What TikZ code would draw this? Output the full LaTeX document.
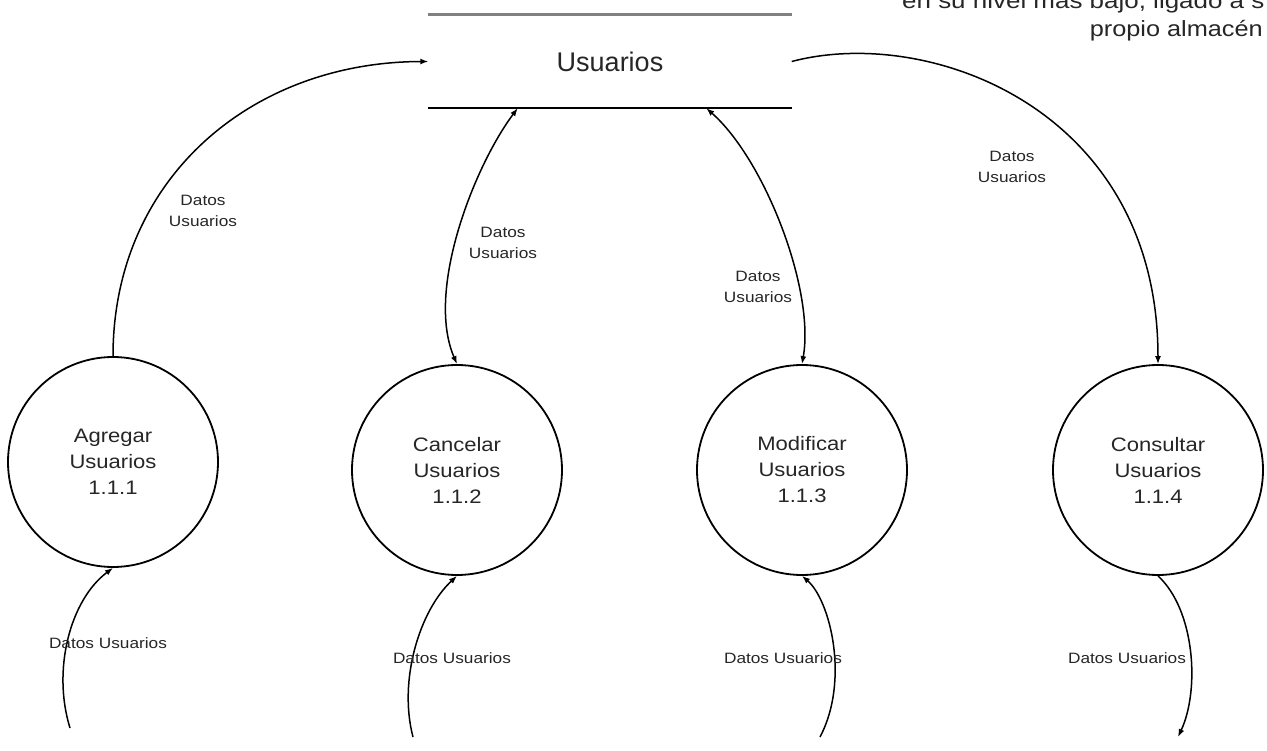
\documentclass[tikz,border=0pt]{standalone}
\usepackage{fontspec}
\setmainfont{Liberation Sans}
\usetikzlibrary{arrows.meta,calc}

\definecolor{ink}{gray}{0.15}
\definecolor{rulegray}{gray}{0.5}

% widen a piece of text horizontally
\newcommand{\stretchx}[2][1.13]{\scalebox{#1}[1]{#2}}

\begin{document}
\begin{tikzpicture}[x=1pt,y=-1pt,
  process/.style={circle,draw,line width=1.8pt,minimum size=210pt,inner sep=0pt,
    align=center,font=\fontsize{19.5}{26}\selectfont,text=ink},
  datastore/.style={minimum width=363pt,minimum height=93pt,inner sep=0pt,
    font=\fontsize{27}{32}\selectfont,text=ink},
  tip/.tip={Latex[length=8pt,width=6pt]},
  flow/.style={line width=1.5pt,-tip},
  biflow/.style={line width=1.5pt,tip-tip},
  flowlabel/.style={align=center,font=\fontsize{15}{21}\selectfont,text=ink,inner sep=0pt},
  notetext/.style={font=\fontsize{22}{22}\selectfont,text=ink,inner sep=0pt},
]
\useasboundingbox (0,0) rectangle (1267,751);
\clip (0,0) rectangle (1267,751);

% note in the upper right corner
\node[notetext,anchor=base west] (note1) at (902,9) {\stretchx[1.18]{en su nivel mas bajo, ligado a s}};
\node[notetext,anchor=base east] (note2) at (1263,37) {\stretchx[1.15]{propio almacén}};

% data store
\node[datastore] (store) at (610,61.5) {Usuarios};
\draw[rulegray,line width=3pt] (store.north west) -- (store.north east);
\draw[line width=1.8pt] (store.south west) -- (store.south east);

% processes
\node[process] (agr) at (113,462) {\stretchx{Agregar}\\\stretchx{Usuarios}\\\stretchx{1.1.1}};
\node[process] (can) at (457,470) {\stretchx{Cancelar}\\\stretchx{Usuarios}\\\stretchx{1.1.2}};
\node[process] (mod) at (802,470) {\stretchx{Modificar}\\\stretchx{Usuarios}\\\stretchx{1.1.3}};
\node[process] (con) at (1158,470) {\stretchx{Consultar}\\\stretchx{Usuarios}\\\stretchx{1.1.4}};

% flows between the processes and the store
\draw[flow] (agr.north) .. controls (113,180) and (250,62) .. (store.west);
\draw[biflow] ($(store.south west)!0.246!(store.south east)$) .. controls (475,165) and (425,290) .. (can.north);
\draw[biflow] ($(store.south west)!0.765!(store.south east)$) .. controls (765,160) and (815,290) .. (mod.north);
\draw[flow] (store.east) .. controls (930,25) and (1158,110) .. (con.north);

\node[flowlabel] (lagr) at (203,211) {\stretchx[1.15]{Datos}\\\stretchx[1.15]{Usuarios}};
\node[flowlabel] (lcan) at (503,243) {\stretchx[1.15]{Datos}\\\stretchx[1.15]{Usuarios}};
\node[flowlabel] (lmod) at (758,287) {\stretchx[1.15]{Datos}\\\stretchx[1.15]{Usuarios}};
\node[flowlabel] (lcon) at (1012,167) {\stretchx[1.15]{Datos}\\\stretchx[1.15]{Usuarios}};

% flows entering and leaving at the bottom
\coordinate (inA) at (70,728);
\coordinate (inC) at (413,737);
\coordinate (inM) at (820,737);
\coordinate (outQ) at (1178,737);
\draw[flow] (inA) .. controls (52,670) and (70,600) .. (agr.south);
\draw[flow] (inC) .. controls (398,680) and (420,610) .. (can.south);
\draw[flow] (inM) .. controls (850,680) and (830,600) .. (mod.south);
\draw[flow] (con.south) .. controls (1195,610) and (1200,690) .. (outQ);

\node[flowlabel] (bagr) at (108,643) {\stretchx[1.15]{Datos Usuarios}};
\node[flowlabel] (bcan) at (452,658) {\stretchx[1.15]{Datos Usuarios}};
\node[flowlabel] (bmod) at (783,658) {\stretchx[1.15]{Datos Usuarios}};
\node[flowlabel] (bcon) at (1127,658) {\stretchx[1.15]{Datos Usuarios}};
\end{tikzpicture}
\end{document}
